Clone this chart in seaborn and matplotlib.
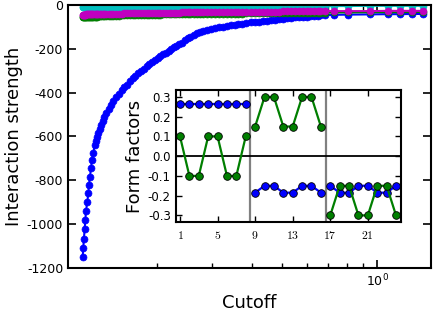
import numpy as np
import matplotlib
matplotlib.use('Agg')
import matplotlib.pyplot as plt
import matplotlib.ticker as mticker
import seaborn as sns

# cutoff grid shared by the four curves
cutoff = [0.1163, 0.1168, 0.1174, 0.1180, 0.1186, 0.1192, 0.1203, 0.1212, 0.1218, 0.1227,
          0.1236, 0.1245, 0.1257, 0.1270,
          0.1281, 0.1292, 0.1303, 0.1316, 0.1331, 0.1346, 0.1364, 0.1384, 0.1406, 0.1431, 0.1456,
          0.1484, 0.1515, 0.1546,
          0.1577, 0.1608, 0.1640, 0.1677, 0.1710, 0.1745, 0.1780, 0.1818, 0.1856, 0.1893,
          0.1931, 0.1971, 0.2010, 0.2050, 0.2094, 0.2136, 0.2180, 0.2219, 0.2261, 0.2301,
          0.2352, 0.2404,
          0.2458, 0.2512, 0.2549, 0.2619, 0.2679, 0.2732, 0.2809, 0.2886, 0.2961, 0.3049, 0.3139,
          0.3235, 0.3328, 0.3425, 0.3527, 0.3621, 0.3728, 0.3847,
          0.3981, 0.4100, 0.4222, 0.4347, 0.4456, 0.4595, 0.4742, 0.4893,
          0.5031, 0.5180, 0.5333, 0.5492, 0.5646, 0.5801, 0.5965, 0.6128,
          0.6301, 0.6474, 0.6593,
          0.68, 0.73, 0.81, 0.95, 1.08, 1.18, 1.29, 1.40]

strength_blue = [-1151, -1110, -1066, -1023, -981, -939, -899, -859, -820, -783,
                 -745, -707, -674, -639,
                 -620, -602, -584, -566, -548, -529, -511, -493, -475, -456, -438,
                 -422, -406, -390,
                 -376, -363, -349, -335, -324, -312, -301, -290, -279, -269,
                 -259, -250, -242, -234, -225, -217, -209, -202, -194, -187,
                 -180, -173,
                 -162, -152, -144, -136, -130, -125, -119, -114, -109, -105, -102,
                 -99, -96, -93, -90, -88, -85, -83,
                 -80, -78, -76, -73, -71, -69, -67, -64,
                 -62, -61, -59, -57, -56, -54, -53, -52,
                 -50, -49, -48,
                 -46, -45, -44, -43, -42, -42, -41, -41]

strength_green = [-56, -56, -55, -55, -55, -55, -55, -54, -54, -54, -54, -54, -53, -53,
                  -53, -53, -52, -52, -52, -51, -51, -51, -50, -50, -50,
                  -49, -49, -48,
                  -48, -47, -47, -46, -46, -46, -45, -45, -45, -45, -44, -44, -44, -44,
                  -43, -43, -43, -43, -42, -42, -42, -42,
                  -42, -42, -42, -41, -41, -41, -41, -41, -40, -40, -40,
                  -40, -39, -39, -39, -39, -39, -38,
                  -38, -38, -38, -38, -37, -37, -37, -37,
                  -37, -36, -36, -36, -36, -36, -36, -35,
                  -35, -35, -35,
                  -35, -34, -34, -33, -33, -33, -32, -32]

strength_cyan = [-10, -10, -10, -10, -10, -10, -10, -10, -10, -10, -10, -10, -10, -10,
                 -10, -9, -9, -9, -9, -9, -9, -9, -9, -8, -8,
                 -8, -8, -8,
                 -8, -8, -8, -8, -8, -8, -7, -7, -7, -7, -7, -7, -7, -7,
                 -7, -7, -7, -7, -7, -7, -7, -7,
                 -6, -6, -6, -6, -6, -6, -6, -6, -6, -6, -6,
                 -6, -6, -6, -6, -6, -6, -6,
                 -6, -6, -6, -6, -5, -5, -5, -5,
                 -5, -5, -5, -5, -5, -5, -5, -5,
                 -5, -5, -5,
                 -5, -5, -5, -4, -4, -4, -4, -4]

strength_magenta = [-44, -44, -44, -44, -44, -43, -43, -43, -43, -43, -43, -42, -42, -42,
                    -42, -42, -41, -41, -41, -41, -41, -40, -40, -40, -40,
                    -39, -39, -39,
                    -38, -38, -38, -38, -37, -37, -37, -37, -37, -36, -36, -36, -36, -36,
                    -36, -35, -35, -35, -35, -35, -35, -34,
                    -34, -34, -34, -34, -33, -33, -33, -33, -32, -32, -32,
                    -32, -32, -32, -31, -31, -31, -31,
                    -31, -31, -30, -30, -30, -30, -30, -30,
                    -29, -29, -29, -29, -29, -29, -29, -29,
                    -28, -28, -28,
                    -28, -28, -28, -28, -27, -27, -27, -27]

# inset: form factors, three blocks of eight
ff_index = [1, 2, 3, 4, 5, 6, 7, 8, 9, 10, 11, 12, 13, 14, 15, 16,
            17, 18, 19, 20, 21, 22, 23, 24]
ff_blue = [0.265, 0.265, 0.265, 0.265, 0.265, 0.265, 0.265, 0.265,
           -0.185, -0.15, -0.15, -0.185, -0.185, -0.15, -0.15, -0.185,
           -0.15, -0.185, -0.185, -0.15, -0.15, -0.185, -0.185, -0.15]
ff_green = [0.1, -0.1, -0.1, 0.1, 0.1, -0.1, -0.1, 0.1,
            0.15, 0.3, 0.3, 0.15, 0.15, 0.3, 0.3, 0.15,
            -0.3, -0.15, -0.15, -0.3, -0.3, -0.15, -0.15, -0.3]
block_edges = [8.5, 16.5]
inset_xticks = [1, 5, 9, 13, 17, 21]
inset_yticks = [-0.3, -0.2, -0.1, 0.0, 0.1, 0.2, 0.3]
main_yticks = [-1200, -1000, -800, -600, -400, -200, 0]

sns.set_style('ticks')
plt.rcParams['font.family'] = ['DejaVu Sans']
plt.rcParams['axes.unicode_minus'] = False
plt.rcParams['xtick.direction'] = 'in'
plt.rcParams['ytick.direction'] = 'in'
plt.rcParams['xtick.top'] = True
plt.rcParams['ytick.right'] = True
plt.rcParams['text.color'] = 'black'
plt.rcParams['axes.labelcolor'] = 'black'
plt.rcParams['xtick.color'] = 'black'
plt.rcParams['ytick.color'] = 'black'

BLUE = '#0000ff'
GREEN = '#007f00'
CYAN = '#00bfbf'
MAGENTA = '#bf00bf'

fig = plt.figure(figsize=(4.37, 3.16), dpi=100)
ax = fig.add_axes([0.1556, 0.152, 0.8307, 0.8323])

for ys, col in [(strength_blue, BLUE), (strength_green, GREEN),
                (strength_cyan, CYAN), (strength_magenta, MAGENTA)]:
    sns.lineplot(x=cutoff, y=ys, ax=ax, color=col, marker='o', markersize=5,
                 markeredgecolor=col, markeredgewidth=0.5, linewidth=1.5,
                 estimator=None, sort=False)

ax.set_xscale('log')
ax.set_xlim(0.1045, 1.48)
ax.set_ylim(-1200, 0)
ax.set_yticks(main_yticks)
ax.set_yticklabels([str(v) for v in main_yticks])
ax.xaxis.set_minor_formatter(mticker.NullFormatter())
ax.tick_params(axis='both', which='major', labelsize=9, length=6, width=1.2)
ax.tick_params(axis='x', which='minor', length=3.5, width=1)
ax.set_xlabel('Cutoff', fontsize=13, labelpad=3)
ax.set_ylabel('Interaction strength', fontsize=13, labelpad=3)
for s in ax.spines.values():
    s.set_linewidth(1.5)
    s.set_color('black')

# inset
axi = fig.add_axes([0.402, 0.2965, 0.5156, 0.4187])
for lo, hi in [(0, 8), (8, 16), (16, 24)]:
    sns.lineplot(x=ff_index[lo:hi], y=ff_blue[lo:hi], ax=axi, color=BLUE, marker='o',
                 markersize=5.5, markeredgecolor='black', markeredgewidth=0.6,
                 linewidth=1.6, estimator=None, sort=False)
for lo, hi in [(0, 8), (8, 16), (16, 24)]:
    sns.lineplot(x=ff_index[lo:hi], y=ff_green[lo:hi], ax=axi, color=GREEN, marker='o',
                 markersize=5.5, markeredgecolor='black', markeredgewidth=0.6,
                 linewidth=1.6, estimator=None, sort=False)
for xe in block_edges:
    axi.axvline(xe, color='#808080', linewidth=1.6, zorder=1)
axi.axhline(0, color='black', linewidth=1.3, zorder=1)
axi.set_xlim(0.54, 24.53)
axi.set_ylim(-0.335, 0.335)
axi.set_xticks(inset_xticks)
axi.set_xticklabels(['$%d$' % t for t in inset_xticks])
for lbl in axi.get_xticklabels():
    lbl.set_math_fontfamily('cm')
axi.set_yticks(inset_yticks)
axi.set_yticklabels(['%.1f' % v for v in inset_yticks])
axi.tick_params(axis='both', which='major', labelsize=8.5, length=4, width=1)
axi.tick_params(axis='x', pad=5)
axi.set_ylabel('Form factors', fontsize=13, labelpad=3)
for s in axi.spines.values():
    s.set_linewidth(1.5)
    s.set_color('black')

fig.savefig('out.png', dpi=100)
